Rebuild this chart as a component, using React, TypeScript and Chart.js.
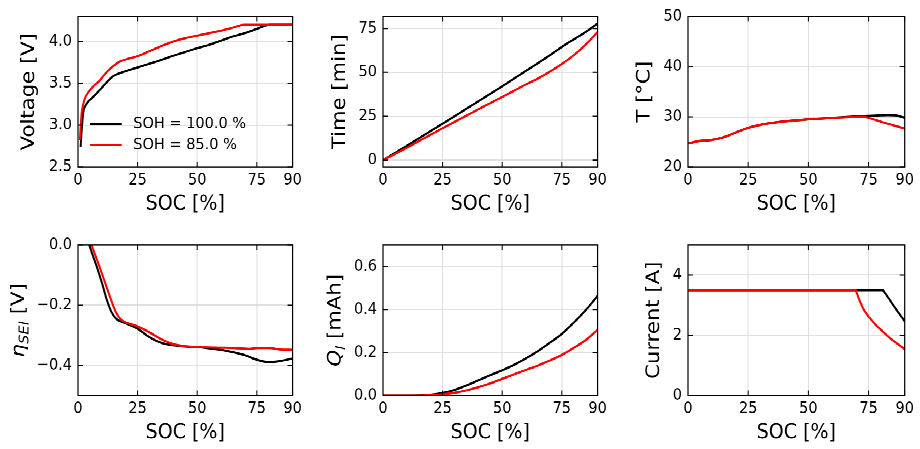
import React, { useEffect, useRef } from "react";
import { Chart, registerables } from "chart.js";

Chart.register(...registerables);
Chart.defaults.font.family = "'DejaVu Sans', sans-serif";
Chart.defaults.color = "#000";

// ---------------- data ----------------
const xTicks = [0, 25, 50, 75, 90];
const seriesLabels = ["SOH = 100.0 %", "SOH = 85.0 %"];

// Voltage [V]
const socVolt100 = [1.1, 1.5, 2.2, 3.3, 4.5, 5.7, 7.5, 9.1, 11, 13.3, 15, 16.5, 20, 25, 30, 35, 40, 45, 50, 55, 60, 65, 70, 75, 80.5, 90];
const volt100 = [2.74, 2.92, 3.15, 3.24, 3.29, 3.32, 3.37, 3.42, 3.48, 3.55, 3.59, 3.61, 3.645, 3.69, 3.735, 3.78, 3.83, 3.875, 3.92, 3.96, 4.01, 4.06, 4.1, 4.15, 4.2, 4.2];
const socVolt85 = [0.8, 1.2, 1.6, 2.2, 2.9, 4, 5, 7, 9, 11, 13.3, 15, 16.8, 20, 25, 30, 35, 40, 45, 50, 55, 60, 65, 69.5, 90];
const volt85 = [2.82, 3.02, 3.16, 3.25, 3.32, 3.38, 3.42, 3.48, 3.53, 3.6, 3.67, 3.71, 3.75, 3.785, 3.825, 3.885, 3.945, 4.0, 4.04, 4.07, 4.1, 4.13, 4.165, 4.2, 4.2];

// Time [min]
const socTime = [0, 5, 10, 15, 20, 25, 30, 35, 40, 45, 50, 55, 60, 65, 70, 75, 80, 85, 90];
const time100 = [0, 4.1, 8.2, 12.4, 16.6, 20.8, 25.0, 29.3, 33.5, 37.8, 42.1, 46.5, 50.9, 55.3, 59.8, 64.5, 68.8, 73.0, 77.8];
const time85 = [0, 3.5, 7.1, 10.8, 14.5, 18.2, 21.8, 25.4, 29.0, 32.5, 36.0, 39.6, 43.2, 46.5, 50.4, 54.8, 59.8, 65.8, 73.0];

// Temperature [°C]
const socTemp100 = [0, 5, 10, 15, 20, 25, 30, 35, 40, 45, 50, 55, 60, 65, 70, 75, 80, 83, 86, 88, 90];
const temp100 = [24.7, 25.2, 25.4, 25.95, 26.9, 27.8, 28.4, 28.8, 29.1, 29.3, 29.5, 29.65, 29.8, 29.95, 30.1, 30.2, 30.3, 30.35, 30.3, 30.1, 29.8];
const socTemp85 = [0, 5, 10, 15, 20, 25, 30, 35, 40, 45, 50, 55, 60, 65, 70, 73, 75, 80, 85, 90];
const temp85 = [24.7, 25.2, 25.4, 25.95, 26.9, 27.8, 28.4, 28.8, 29.1, 29.3, 29.5, 29.65, 29.8, 29.9, 30.0, 30.0, 29.8, 29.05, 28.35, 27.65];

// SEI overpotential [V]
const socEta100 = [4.7, 6, 8, 10, 12, 14, 16, 18, 20, 25, 30, 35, 40, 45, 50, 55, 60, 65, 70, 75, 80, 85, 90];
const eta100 = [0, -0.03, -0.075, -0.125, -0.18, -0.222, -0.245, -0.254, -0.26, -0.278, -0.306, -0.325, -0.333, -0.337, -0.339, -0.343, -0.348, -0.356, -0.366, -0.381, -0.389, -0.385, -0.377];
const socEta85 = [5.7, 8, 10, 12, 14, 16, 18, 20, 25, 30, 35, 40, 45, 50, 55, 60, 65, 70, 72, 75, 80, 85, 90];
const eta85 = [0, -0.05, -0.094, -0.14, -0.185, -0.225, -0.247, -0.257, -0.27, -0.29, -0.313, -0.329, -0.336, -0.339, -0.34, -0.341, -0.342, -0.344, -0.345, -0.342, -0.342, -0.347, -0.348];

// Lithium plating capacity [mAh]
const socQ = [0, 5, 10, 15, 20, 25, 30, 35, 40, 45, 50, 55, 60, 65, 70, 75, 80, 85, 90];
const q100 = [0, 0, 0, 0.001, 0.004, 0.012, 0.026, 0.047, 0.071, 0.095, 0.118, 0.143, 0.173, 0.207, 0.246, 0.287, 0.339, 0.397, 0.463];
const q85 = [0, 0, 0, 0, 0.002, 0.006, 0.013, 0.024, 0.039, 0.057, 0.078, 0.099, 0.12, 0.14, 0.163, 0.189, 0.222, 0.258, 0.306];

// Current [A]
const socCur100 = [0, 81, 83, 85, 87, 90];
const cur100 = [3.5, 3.5, 3.27, 3.03, 2.8, 2.47];
const socCur85 = [0, 69.7, 71, 73, 75, 78, 81, 84, 87, 90];
const cur85 = [3.5, 3.5, 3.2, 2.85, 2.62, 2.34, 2.12, 1.9, 1.72, 1.54];

// y tick values per panel
const yTicksVolt = [2.5, 3.0, 3.5, 4.0];
const yTicksTime = [0, 25, 50, 75];
const yTicksTemp = [20, 30, 40, 50];
const yTicksEta = [0, -0.2, -0.4];
const yTicksQ = [0, 0.2, 0.4, 0.6];
const yTicksCur = [0, 2, 4];

// ---------------- layout / style ----------------
const SY = 1.115; // vertical stretch of the whole figure
const H0 = 449 / SY;
const COL_LEFT = [0, 305, 610];
const COL_W = [305, 305, 310];
const PAD_RIGHT = [10.3, 10.7, 15.3];
const ROW_TOP = [0, 204.5];
const CANVAS_H = 198;
const PLOT_TOP = 10.5;
const PLOT_BOTTOM = 149.8;
const Y_AXIS_W = 78;
const TICK_SIZE = 14.5;
const LABEL_SIZE = 19;
const GRID = "#d6d6d6";
const RED = "#ff0000";
const BLACK = "#000000";

type XY = { x: number; y: number };
type Seg = { t: string; italic?: boolean; sub?: boolean };
const zip = (xs: number[], ys: number[]): XY[] => xs.map((x, i) => ({ x, y: ys[i] }));

interface PanelSpec {
  col: number;
  row: number;
  yMin: number;
  yMax: number;
  yTicks: number[];
  yDec: number;
  yTitle?: string;
  yMath?: Seg[];
  titleX: number;
  black: XY[];
  red: XY[];
  legend?: boolean;
  straight?: boolean;
}

const panels: PanelSpec[] = [
  { col: 0, row: 0, yMin: 2.5, yMax: 4.3, yTicks: yTicksVolt, yDec: 1, yTitle: "Voltage [V]", titleX: 29, black: zip(socVolt100, volt100), red: zip(socVolt85, volt85), legend: true },
  { col: 1, row: 0, yMin: -3.9, yMax: 81.9, yTicks: yTicksTime, yDec: 0, yTitle: "Time [min]", titleX: 35, black: zip(socTime, time100), red: zip(socTime, time85) },
  { col: 2, row: 0, yMin: 20, yMax: 50, yTicks: yTicksTemp, yDec: 0, yTitle: "T [°C]", titleX: 34.5, black: zip(socTemp100, temp100), red: zip(socTemp85, temp85) },
  { col: 0, row: 1, yMin: -0.5, yMax: 0, yTicks: yTicksEta, yDec: 1, yMath: [{ t: "η", italic: true }, { t: "SEI", italic: true, sub: true }, { t: " [V]" }], titleX: 17.5, black: zip(socEta100, eta100), red: zip(socEta85, eta85) },
  { col: 1, row: 1, yMin: 0, yMax: 0.7, yTicks: yTicksQ, yDec: 1, yMath: [{ t: "Q", italic: true }, { t: "l", italic: true, sub: true }, { t: " [mAh]" }], titleX: 29, black: zip(socQ, q100), red: zip(socQ, q85) },
  { col: 2, row: 1, yMin: 0, yMax: 5, yTicks: yTicksCur, yDec: 0, yTitle: "Current [A]", titleX: 44, black: zip(socCur100, cur100), red: zip(socCur85, cur85), straight: true },
];

const fmt = (v: number, dec: number) => {
  const r = Math.abs(v) < 1e-9 ? 0 : v;
  return (r < 0 ? "\u2212" : "") + Math.abs(r).toFixed(dec);
};

// frame + inward ticks on all four sides
const framePlugin = {
  id: "frame",
  afterDatasetsDraw(chart: any) {
    const { ctx, chartArea, scales } = chart;
    const { left, right, top, bottom } = chartArea;
    ctx.save();
    ctx.strokeStyle = "#000";
    ctx.lineWidth = 1;
    ctx.beginPath();
    const tx = 4.5;
    const ty = 5;
    scales.x.ticks.forEach((t: any) => {
      const p = scales.x.getPixelForValue(t.value);
      ctx.moveTo(p, bottom);
      ctx.lineTo(p, bottom - tx);
      ctx.moveTo(p, top);
      ctx.lineTo(p, top + tx);
    });
    scales.y.ticks.forEach((t: any) => {
      const p = scales.y.getPixelForValue(t.value);
      ctx.moveTo(left, p);
      ctx.lineTo(left + ty, p);
      ctx.moveTo(right, p);
      ctx.lineTo(right - ty, p);
    });
    ctx.stroke();
    ctx.lineWidth = 1.2;
    ctx.strokeRect(left, top, right - left, bottom - top);
    ctx.restore();
  },
};

// legend drawn inside the plot area (lower left)
const inLegendPlugin = {
  id: "inLegend",
  afterDatasetsDraw(chart: any, _a: any, opts: any) {
    if (!opts || !opts.show) return;
    const { ctx, chartArea } = chart;
    const rows = [38.6, 19.8];
    ctx.save();
    ctx.font = `${TICK_SIZE}px 'DejaVu Sans'`;
    ctx.textBaseline = "middle";
    ctx.textAlign = "left";
    chart.data.datasets.forEach((d: any, i: number) => {
      const y = chartArea.bottom - rows[i];
      const x0 = chartArea.left + 12;
      ctx.strokeStyle = d.borderColor;
      ctx.lineWidth = 2;
      ctx.beginPath();
      ctx.moveTo(x0, y);
      ctx.lineTo(x0 + 31.7, y);
      ctx.stroke();
      ctx.fillStyle = "#000";
      ctx.fillText(d.label, x0 + 43.3, y);
    });
    ctx.restore();
  },
};

// y-axis title with italic symbol and subscript
const mathTitlePlugin = {
  id: "mathTitle",
  afterDraw(chart: any, _a: any, opts: any) {
    if (!opts || !opts.segs) return;
    const { ctx, chartArea } = chart;
    const F = LABEL_SIZE;
    const fontOf = (s: Seg) => `${s.italic ? "italic " : ""}${s.sub ? F * 0.7 : F}px 'DejaVu Sans'`;
    ctx.save();
    let total = 0;
    const widths = opts.segs.map((s: Seg) => {
      ctx.font = fontOf(s);
      const w = ctx.measureText(s.t).width;
      total += w;
      return w;
    });
    ctx.translate(opts.x, (chartArea.top + chartArea.bottom) / 2);
    ctx.rotate(-Math.PI / 2);
    ctx.textBaseline = "alphabetic";
    ctx.textAlign = "left";
    ctx.fillStyle = "#000";
    let x = -total / 2;
    const base = 0.35 * F;
    opts.segs.forEach((s: Seg, i: number) => {
      ctx.font = fontOf(s);
      ctx.fillText(s.t, x, base + (s.sub ? 0.22 * F : 0));
      x += widths[i];
    });
    ctx.restore();
  },
};

function buildConfig(p: PanelSpec): any {
  const lineStyle = {
    borderWidth: 2,
    pointRadius: 0,
    fill: false,
    tension: 0,
    cubicInterpolationMode: p.straight ? "default" : "monotone",
  };
  return {
    type: "line",
    data: {
      datasets: [
        { label: seriesLabels[0], data: p.black, borderColor: BLACK, backgroundColor: BLACK, order: 1, ...lineStyle },
        { label: seriesLabels[1], data: p.red, borderColor: RED, backgroundColor: RED, order: 0, ...lineStyle },
      ],
    },
    options: {
      animation: false,
      responsive: false,
      devicePixelRatio: 2,
      events: [],
      layout: { padding: { top: PLOT_TOP, right: PAD_RIGHT[p.col], bottom: 0, left: 0 } },
      plugins: {
        legend: { display: false },
        tooltip: { enabled: false },
        inLegend: { show: !!p.legend },
        mathTitle: p.yMath ? { segs: p.yMath, x: p.titleX } : {},
      },
      scales: {
        x: {
          type: "linear",
          min: 0,
          max: 90,
          afterBuildTicks: (s: any) => {
            s.ticks = xTicks.map((v) => ({ value: v }));
          },
          afterFit: (s: any) => {
            s.height = CANVAS_H - PLOT_BOTTOM;
          },
          grid: { color: GRID, lineWidth: 0.8, drawTicks: false },
          border: { display: false },
          ticks: {
            padding: 3.2,
            maxRotation: 0,
            autoSkip: false,
            font: { size: TICK_SIZE },
            color: "#000",
            callback: (v: any) => String(v),
          },
          title: {
            display: true,
            text: "SOC [%]",
            font: { size: LABEL_SIZE },
            color: "#000",
            padding: { top: 0, bottom: 3.5 },
          },
        },
        y: {
          type: "linear",
          min: p.yMin,
          max: p.yMax,
          afterBuildTicks: (s: any) => {
            s.ticks = p.yTicks.map((v) => ({ value: v }));
          },
          afterFit: (s: any) => {
            s.width = Y_AXIS_W;
          },
          grid: { color: GRID, lineWidth: 0.8, drawTicks: false },
          border: { display: false },
          ticks: {
            padding: 6,
            autoSkip: false,
            font: { size: TICK_SIZE },
            color: "#000",
            callback: (v: any) => fmt(Number(v), p.yDec),
          },
          title: {
            display: !!p.yTitle,
            text: p.yTitle || "",
            font: { size: LABEL_SIZE },
            color: "#000",
            padding: { top: p.titleX - LABEL_SIZE * 0.6, bottom: 0 },
          },
        },
      },
    },
    plugins: [framePlugin, inLegendPlugin, mathTitlePlugin],
  };
}

function Panel({ spec }: { spec: PanelSpec }) {
  const ref = useRef<HTMLCanvasElement | null>(null);
  useEffect(() => {
    const canvas = ref.current;
    if (!canvas) return;
    const chart = new Chart(canvas, buildConfig(spec));
    return () => chart.destroy();
  }, [spec]);
  return (
    <canvas
      ref={ref}
      width={COL_W[spec.col]}
      height={CANVAS_H}
      style={{ position: "absolute", left: COL_LEFT[spec.col], top: ROW_TOP[spec.row] }}
    />
  );
}

export default function App() {
  return (
    <div style={{ position: "fixed", left: 0, top: 0, width: 920, height: 449, overflow: "hidden", background: "#fff" }}>
      <div
        style={{
          position: "absolute",
          left: 0,
          top: 0,
          width: 920,
          height: H0,
          transform: `scaleY(${SY})`,
          transformOrigin: "0 0",
        }}
      >
        {panels.map((p, i) => (
          <Panel key={i} spec={p} />
        ))}
      </div>
    </div>
  );
}
